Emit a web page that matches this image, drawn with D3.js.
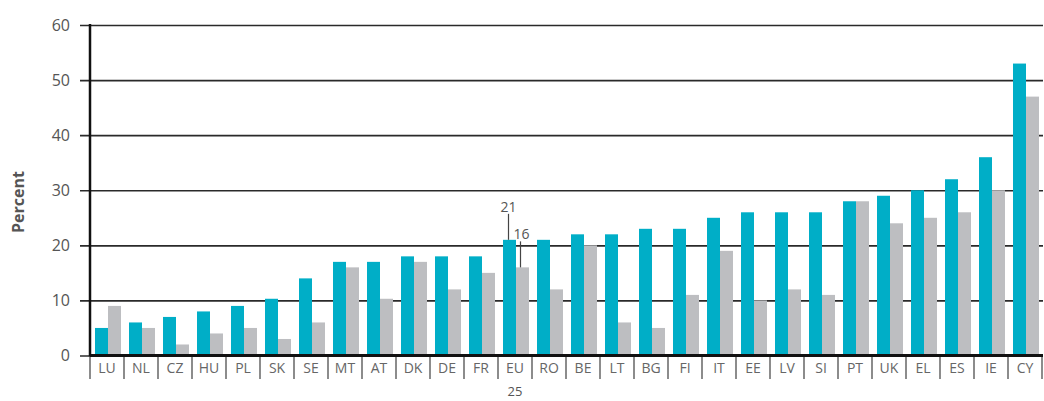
<!DOCTYPE html>
<html lang="en">
<head>
    <meta charset="UTF-8">
    <title>Percent by country</title>
    <style>
        html, body { margin: 0; padding: 0; background: #fff; }
        svg { display: block; font-family: "Open Sans", "DejaVu Sans", sans-serif; }
    </style>
</head>
<body>
    <div id="wrapper"></div>
    <script src="https://d3js.org/d3.v7.min.js"></script>
    <script>
        // 資料
        const countries = ['LU', 'NL', 'CZ', 'HU', 'PL', 'SK', 'SE', 'MT', 'AT', 'DK', 'DE', 'FR', 'EU', 'RO',
            'BE', 'LT', 'BG', 'FI', 'IT', 'EE', 'LV', 'SI', 'PT', 'UK', 'EL', 'ES', 'IE', 'CY'];
        const seriesA = [5, 6, 7, 8, 9, 10.3, 14, 17, 17, 18, 18, 18, 21, 21,
            22, 22, 23, 23, 25, 26, 26, 26, 28, 29, 30, 32, 36, 53];
        const seriesB = [9, 5, 2, 4, 5, 3, 6, 16, 10.3, 17, 12, 15, 16, 12,
            20, 6, 5, 11, 19, 10, 12, 11, 28, 24, 25, 26, 30, 47];
        const yTicks = [0, 10, 20, 30, 40, 50, 60];

        const width = 1044, height = 401;
        const svg = d3.select('#wrapper').append('svg')
            .attr('width', width)
            .attr('height', height);

        // X軸: 國家
        const xScale = d3.scaleBand()
            .domain(countries)
            .range([90, 1042])
            .padding(0);

        // 每組裡面兩根長條
        const xInner = d3.scaleBand()
            .domain(['a', 'b'])
            .range([5, 31])
            .padding(0);

        // Y軸
        const yScale = d3.scaleLinear()
            .domain([0, 60])
            .range([355.5, 25]);

        // 格線 + 刻度文字
        const yAxis = d3.axisLeft(yScale)
            .tickValues(yTicks)
            .tickSizeInner(-963)
            .tickSizeOuter(0)
            .tickPadding(10);

        const yAxisG = svg.append('g')
            .attr('transform', 'translate(80,0)')
            .call(yAxis);
        yAxisG.select('.domain').remove();
        yAxisG.selectAll('.tick line')
            .attr('stroke', '#2a2a2a')
            .attr('stroke-width', 1.6);
        yAxisG.selectAll('.tick text')
            .attr('fill', '#555')
            .style('font-size', '16px')
            .style('font-family', '"Open Sans", sans-serif');

        // Y軸標籤
        svg.append('text')
            .attr('transform', 'translate(24,202) rotate(-90)')
            .attr('text-anchor', 'middle')
            .attr('fill', '#555')
            .style('font-size', '16px')
            .style('font-weight', 'bold')
            .text('Percent');

        // 長條圖
        const groups = svg.append('g')
            .selectAll('g')
            .data(countries)
            .join('g')
            .attr('transform', d => `translate(${xScale(d)},0)`);

        groups.append('rect')
            .attr('x', xInner('a'))
            .attr('y', (d, i) => yScale(seriesA[i]))
            .attr('width', xInner.bandwidth())
            .attr('height', (d, i) => yScale(0) - yScale(seriesA[i]))
            .attr('fill', '#00aec7');

        groups.append('rect')
            .attr('x', xInner('b'))
            .attr('y', (d, i) => yScale(seriesB[i]))
            .attr('width', xInner.bandwidth())
            .attr('height', (d, i) => yScale(0) - yScale(seriesB[i]))
            .attr('fill', '#bdbec1');

        // X軸 分隔刻度
        const bounds = countries.map(d => xScale(d)).concat([xScale.range()[1]]);
        svg.append('g')
            .selectAll('line')
            .data(bounds)
            .join('line')
            .attr('x1', d => d)
            .attr('x2', d => d)
            .attr('y1', yScale(0))
            .attr('y2', 379)
            .attr('stroke', '#666')
            .attr('stroke-width', 1.5);

        // X軸 文字
        const xAxis = d3.axisBottom(xScale)
            .tickSize(0)
            .tickPadding(8);
        const xAxisG = svg.append('g')
            .attr('transform', `translate(0,${yScale(0)})`)
            .call(xAxis);
        xAxisG.select('.domain').remove();
        xAxisG.selectAll('.tick text')
            .attr('fill', '#666')
            .style('font-size', '14px')
            .style('font-family', '"Open Sans", sans-serif');

        // EU 下面的 25
        svg.append('text')
            .attr('x', xScale('EU') + xScale.bandwidth() / 2)
            .attr('y', 396)
            .attr('text-anchor', 'middle')
            .attr('fill', '#555')
            .style('font-size', '13px')
            .text('25');

        // 軸線
        svg.append('line')
            .attr('x1', 90).attr('x2', 1043)
            .attr('y1', yScale(0)).attr('y2', yScale(0))
            .attr('stroke', '#111').attr('stroke-width', 3);
        svg.append('line')
            .attr('x1', 90).attr('x2', 90)
            .attr('y1', yScale(60) - 1).attr('y2', yScale(0) + 1)
            .attr('stroke', '#111').attr('stroke-width', 2.5);

        // EU 標註
        const euIdx = countries.indexOf('EU');
        const euX = xScale('EU');
        const xa = euX + xInner('a') + xInner.bandwidth() / 2 - 1;
        const xb = euX + xInner('b') + xInner.bandwidth() / 2 - 2;
        svg.append('line')
            .attr('x1', xa).attr('x2', xa)
            .attr('y1', yScale(seriesA[euIdx]) - 26).attr('y2', yScale(seriesA[euIdx]))
            .attr('stroke', '#444').attr('stroke-width', 1.2);
        svg.append('text')
            .attr('x', xa).attr('y', yScale(seriesA[euIdx]) - 28)
            .attr('text-anchor', 'middle')
            .attr('fill', '#555')
            .style('font-size', '14px')
            .text(seriesA[euIdx]);
        svg.append('line')
            .attr('x1', xb).attr('x2', xb)
            .attr('y1', yScale(seriesB[euIdx]) - 26).attr('y2', yScale(seriesB[euIdx]))
            .attr('stroke', '#444').attr('stroke-width', 1.2);
        svg.append('text')
            .attr('x', xb + 1).attr('y', yScale(seriesB[euIdx]) - 28)
            .attr('text-anchor', 'middle')
            .attr('fill', '#555')
            .style('font-size', '14px')
            .text(seriesB[euIdx]);
    </script>
</body>
</html>
